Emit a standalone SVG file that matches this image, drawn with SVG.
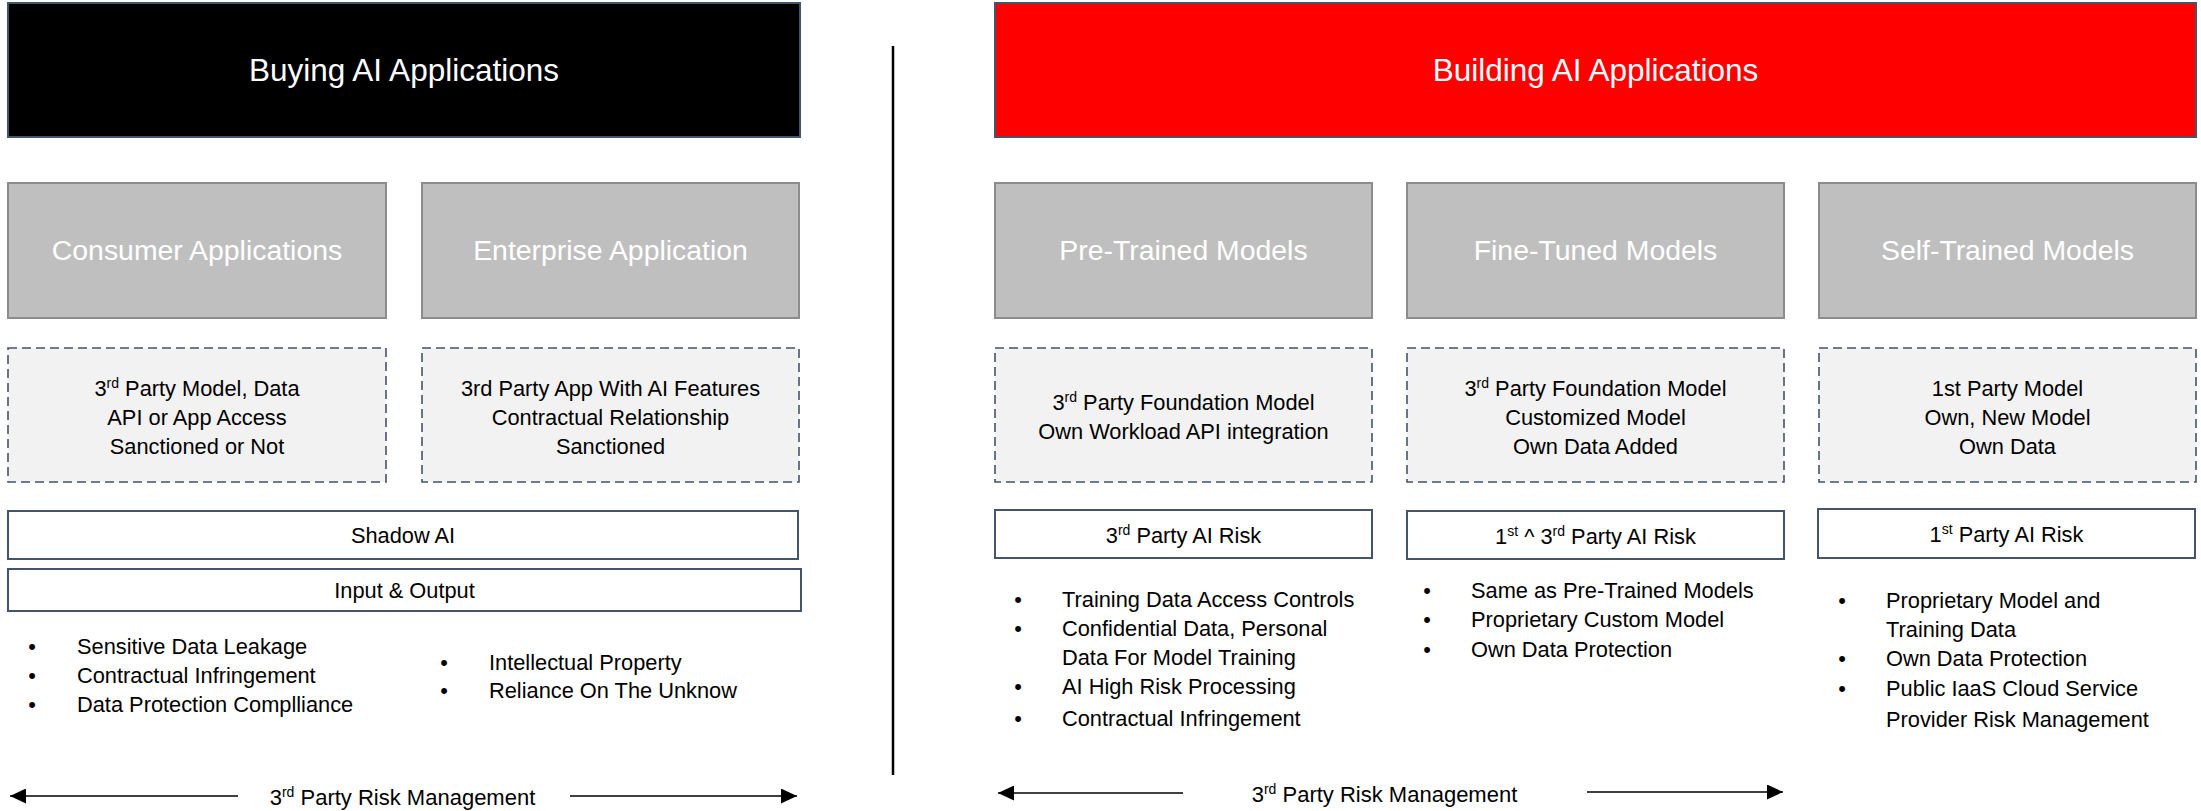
<svg xmlns="http://www.w3.org/2000/svg" width="2201" height="811" viewBox="0 0 2201 811">
<defs>
<style>
text{font-family:"Liberation Sans",Arial,sans-serif;fill:#000}
.hdr{font-size:31.5px;fill:#fff;text-anchor:middle}
.cat{font-size:28.4px;fill:#fff;text-anchor:middle}
.body{font-size:21.8px}
.mid{text-anchor:middle}
.gray{fill:#bfbfbf;stroke:#8c8c8c;stroke-width:2}
.dash{fill:#f2f2f2;stroke:#44546a;stroke-width:1.6;stroke-dasharray:9 5}
.plain{fill:#fff;stroke:#44546a;stroke-width:2}
.conn{stroke:#000;stroke-width:1.6;fill:none}
.sup{font-size:14px}
</style>
<marker id="ah" markerUnits="userSpaceOnUse" markerWidth="17" markerHeight="15" refX="16" refY="7.5" orient="auto">
<path d="M0,0 L16,7.5 L0,15 Z" fill="#000"/>
</marker>
</defs>
<rect width="2201" height="811" fill="#fff"/>

<g id="header-buying">
<rect x="8" y="3" width="792" height="134" fill="#000" stroke="#44546a" stroke-width="2"/>
<text class="hdr" x="404" y="81">Buying AI Applications</text>
</g>
<g id="header-building">
<rect x="995" y="3" width="1201" height="134" fill="#ff0000" stroke="#44546a" stroke-width="2"/>
<text class="hdr" x="1595.5" y="81">Building AI Applications</text>
</g>

<g id="consumer-applications">
<rect class="gray" x="8" y="183" width="378" height="135"/>
<text class="cat" x="197" y="260">Consumer Applications</text>
</g>
<g id="enterprise-application">
<rect class="gray" x="422" y="183" width="377" height="135"/>
<text class="cat" x="610.5" y="260">Enterprise Application</text>
</g>
<g id="pre-trained-models">
<rect class="gray" x="995" y="183" width="377" height="135"/>
<text class="cat" x="1183.5" y="260">Pre-Trained Models</text>
</g>
<g id="fine-tuned-models">
<rect class="gray" x="1407" y="183" width="377" height="135"/>
<text class="cat" x="1595.5" y="260">Fine-Tuned Models</text>
</g>
<g id="self-trained-models">
<rect class="gray" x="1819" y="183" width="377" height="135"/>
<text class="cat" x="2007.5" y="260">Self-Trained Models</text>
</g>

<g id="consumer-detail">
<rect class="dash" x="8" y="348" width="378" height="134"/>
<text class="body mid" x="197" y="396">3<tspan class="sup" dy="-8">rd</tspan><tspan dy="8"> Party Model, Data</tspan></text>
<text class="body mid" x="197" y="425">API or App Access</text>
<text class="body mid" x="197" y="454">Sanctioned or Not</text>
</g>
<g id="enterprise-detail">
<rect class="dash" x="422" y="348" width="377" height="134"/>
<text class="body mid" x="610.5" y="396">3rd Party App With AI Features</text>
<text class="body mid" x="610.5" y="425">Contractual Relationship</text>
<text class="body mid" x="610.5" y="454">Sanctioned</text>
</g>
<g id="pre-trained-detail">
<rect class="dash" x="995" y="348" width="377" height="134"/>
<text class="body mid" x="1183.5" y="410">3<tspan class="sup" dy="-8">rd</tspan><tspan dy="8"> Party Foundation Model</tspan></text>
<text class="body mid" x="1183.5" y="439">Own Workload API integration</text>
</g>
<g id="fine-tuned-detail">
<rect class="dash" x="1407" y="348" width="377" height="134"/>
<text class="body mid" x="1595.5" y="396">3<tspan class="sup" dy="-8">rd</tspan><tspan dy="8"> Party Foundation Model</tspan></text>
<text class="body mid" x="1595.5" y="425">Customized Model</text>
<text class="body mid" x="1595.5" y="454">Own Data Added</text>
</g>
<g id="self-trained-detail">
<rect class="dash" x="1819" y="348" width="377" height="134"/>
<text class="body mid" x="2007.5" y="396">1st Party Model</text>
<text class="body mid" x="2007.5" y="425">Own, New Model</text>
<text class="body mid" x="2007.5" y="454">Own Data</text>
</g>

<g id="shadow-ai">
<rect class="plain" x="8" y="511" width="790" height="48"/>
<text class="body mid" x="403" y="543">Shadow AI</text>
</g>
<g id="input-output">
<rect class="plain" x="8" y="569" width="793" height="42"/>
<text class="body mid" x="404.5" y="598">Input &amp; Output</text>
</g>
<g id="third-party-ai-risk">
<rect class="plain" x="995" y="510" width="377" height="48"/>
<text class="body mid" x="1183.5" y="543">3<tspan class="sup" dy="-8">rd</tspan><tspan dy="8"> Party AI Risk</tspan></text>
</g>
<g id="first-third-party-ai-risk">
<rect class="plain" x="1407" y="511" width="377" height="48"/>
<text class="body mid" x="1595.5" y="544">1<tspan class="sup" dy="-8">st</tspan><tspan dy="8"> ^ 3</tspan><tspan class="sup" dy="-8">rd</tspan><tspan dy="8"> Party AI Risk</tspan></text>
</g>
<g id="first-party-ai-risk">
<rect class="plain" x="1818" y="509" width="377" height="49"/>
<text class="body mid" x="2006.5" y="542">1<tspan class="sup" dy="-8">st</tspan><tspan dy="8"> Party AI Risk</tspan></text>
</g>

<g id="buying-risks-1" class="body">
<text class="body mid" x="32" y="654">•</text><text class="body" x="77" y="654">Sensitive Data Leakage</text>
<text class="body mid" x="32" y="683">•</text><text class="body" x="77" y="683">Contractual Infringement</text>
<text class="body mid" x="32" y="712">•</text><text class="body" x="77" y="712">Data Protection Complliance</text>
</g>
<g id="buying-risks-2">
<text class="body mid" x="444" y="670">•</text><text class="body" x="489" y="670">Intellectual Property</text>
<text class="body mid" x="444" y="698">•</text><text class="body" x="489" y="698">Reliance On The Unknow</text>
</g>
<g id="pre-trained-risks">
<text class="body mid" x="1018" y="607">•</text><text class="body" x="1062" y="607">Training Data Access Controls</text>
<text class="body mid" x="1018" y="636">•</text><text class="body" x="1062" y="636">Confidential Data, Personal</text>
<text class="body" x="1062" y="665">Data For Model Training</text>
<text class="body mid" x="1018" y="694">•</text><text class="body" x="1062" y="694">AI High Risk Processing</text>
<text class="body mid" x="1018" y="726">•</text><text class="body" x="1062" y="726">Contractual Infringement</text>
</g>
<g id="fine-tuned-risks">
<text class="body mid" x="1427" y="598">•</text><text class="body" x="1471" y="598">Same as Pre-Trained Models</text>
<text class="body mid" x="1427" y="627">•</text><text class="body" x="1471" y="627">Proprietary Custom Model</text>
<text class="body mid" x="1427" y="657">•</text><text class="body" x="1471" y="657">Own Data Protection</text>
</g>
<g id="self-trained-risks">
<text class="body mid" x="1842" y="608">•</text><text class="body" x="1886" y="608">Proprietary Model and</text>
<text class="body" x="1886" y="637">Training Data</text>
<text class="body mid" x="1842" y="666">•</text><text class="body" x="1886" y="666">Own Data Protection</text>
<text class="body mid" x="1842" y="696">•</text><text class="body" x="1886" y="696">Public IaaS Cloud Service</text>
<text class="body" x="1886" y="727">Provider Risk Management</text>
</g>

<g id="divider">
<line x1="893" y1="46" x2="893" y2="775" stroke="#000" stroke-width="2.5"/>
</g>

<g id="connectors">
<line class="conn" x1="238" y1="796" x2="10" y2="796" marker-end="url(#ah)"/>
<line class="conn" x1="570" y1="796" x2="797" y2="796" marker-end="url(#ah)"/>
<line class="conn" x1="1183" y1="793" x2="998" y2="793" marker-end="url(#ah)"/>
<line class="conn" x1="1587" y1="792" x2="1783" y2="792" marker-end="url(#ah)"/>
</g>
<g id="label-left-risk-mgmt">
<text class="mid" x="402.5" y="805" font-size="22">3<tspan class="sup" dy="-8">rd</tspan><tspan dy="8"> Party Risk Management</tspan></text>
</g>
<g id="label-right-risk-mgmt">
<text class="mid" x="1384.5" y="802" font-size="22">3<tspan class="sup" dy="-8">rd</tspan><tspan dy="8"> Party Risk Management</tspan></text>
</g>
</svg>
